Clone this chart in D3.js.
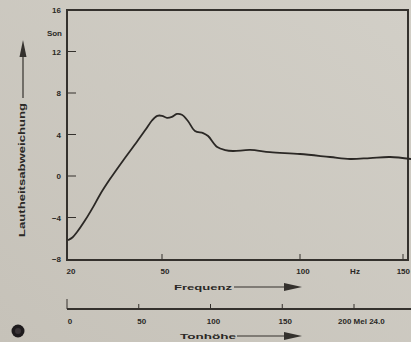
<!DOCTYPE html>
<html>
<head>
<meta charset="utf-8">
<script src="https://cdn.jsdelivr.net/npm/d3@7"></script>
<style>
  html, body { margin: 0; padding: 0; background: #ccc8bf; }
  svg { display: block; }
  text { font-family: "Liberation Sans", "DejaVu Sans", sans-serif; fill: #2a2825; font-weight: bold; }
</style>
</head>
<body>
<svg id="chart" width="411" height="342"></svg>
<script>
// Loudness deviation (Son) over frequency (Hz), with a pitch (Mel) scale below
const freqHz = [20, 21.5, 22.9, 25.4, 28.0, 30.2, 33.4, 37.6, 42.0, 44.6, 46.8, 48.5, 50, 51.8, 53.6, 55.4, 57.2, 59.4,
                61.96, 64.9, 66.7, 70.0, 72.9, 75.7, 81.9, 89.1, 100, 114.6, 124.3, 134, 143.7, 153.9];
const deviation = [-6.2, -5.9, -5.4, -4.3, -3.0, -1.8, -0.3, 1.5, 3.3, 4.4, 5.35, 5.8, 5.8, 5.6, 5.7, 5.98, 5.9, 5.3,
                   4.34, 4.14, 3.85, 2.79, 2.5, 2.41, 2.51, 2.3, 2.12, 1.83, 1.64, 1.73, 1.83, 1.64];

const yTicks = [16, 12, 8, 4, 0, -4, -8];
const freqTicks = [20, 50, 100, 150];
const freqAnchors = [20, 50, 100, 150];      // frequency values at which the pitch mapping is pinned
const melTicks = [0, 50, 100, 150, 200];
const melTickLabels = ["0", "50", "100", "150", "200 Mel 24.0"];

const svg = d3.select("#chart");
const W = 411, H = 342;

// soft paper tone
const defs = svg.append("defs");
const grad = defs.append("linearGradient").attr("id", "paper").attr("x1", 0).attr("y1", 1).attr("x2", 1).attr("y2", 0);
grad.append("stop").attr("offset", "0%").attr("stop-color", "#c6c2b9");
grad.append("stop").attr("offset", "100%").attr("stop-color", "#d2cfc7");
svg.append("rect").attr("width", W).attr("height", H).attr("fill", "url(#paper)");

const frame = { left: 67, right: 408, top: 10, bottom: 260 };
const ink = "#34312d";

const y = d3.scaleLinear().domain([-8, 16]).range([frame.bottom - 1, frame.top]);
// frequency axis follows the pitch scale, so it is not uniform in Hz
const xf = d3.scaleLinear().domain(freqAnchors).range([68, 162, 300, 403]);
const xm = d3.scaleLinear().domain([0, 200]).range([67, 354]);

// frame
svg.append("rect")
  .attr("x", frame.left).attr("y", frame.top)
  .attr("width", frame.right - frame.left).attr("height", frame.bottom - frame.top)
  .attr("fill", "none").attr("stroke", ink).attr("stroke-width", 2);

// y axis ticks and labels
const yAxis = svg.append("g").attr("transform", `translate(${frame.left},0)`);
yAxis.selectAll("line").data(yTicks.filter(d => d > -8 && d < 16)).join("line")
  .attr("x1", 0).attr("x2", 9).attr("y1", d => y(d)).attr("y2", d => y(d))
  .attr("stroke", ink).attr("stroke-width", 1);
yAxis.selectAll("text").data(yTicks).join("text")
  .attr("x", -6).attr("y", d => y(d) + 3).attr("text-anchor", "end")
  .attr("font-size", 8)
  .text(d => d < 0 ? "\u2212" + Math.abs(d) : d);
yAxis.append("text").attr("x", -5).attr("y", 36).attr("text-anchor", "end")
  .attr("font-size", 8).text("Son");

// y axis title with arrow
const yTitle = svg.append("g");
yTitle.append("text")
  .attr("transform", "translate(25,170) rotate(-90)")
  .attr("text-anchor", "middle").attr("font-size", 8.5)
  .attr("textLength", 134).attr("lengthAdjust", "spacingAndGlyphs")
  .text("Lautheitsabweichung");
yTitle.append("line").attr("x1", 23).attr("x2", 23).attr("y1", 98).attr("y2", 55)
  .attr("stroke", ink).attr("stroke-width", 1.2);
yTitle.append("path").attr("d", "M23,40 L19.5,57 L26.5,57 Z").attr("fill", ink);

// frequency axis
const fAxis = svg.append("g");
fAxis.selectAll("line").data(freqTicks.slice(1)).join("line")
  .attr("x1", d => xf(d)).attr("x2", d => xf(d))
  .attr("y1", frame.bottom).attr("y2", frame.bottom - 6)
  .attr("stroke", ink).attr("stroke-width", 1);
fAxis.selectAll("text").data(freqTicks).join("text")
  .attr("x", d => d === 150 ? W - 1 : xf(d) + 3).attr("y", frame.bottom + 14)
  .attr("text-anchor", d => d === 150 ? "end" : "middle")
  .attr("font-size", 8).text(d => d);
fAxis.append("text").attr("x", 355).attr("y", frame.bottom + 14).attr("text-anchor", "middle")
  .attr("font-size", 8).text("Hz");
fAxis.append("text").attr("x", 174).attr("y", 290).attr("font-size", 8)
  .attr("textLength", 58).attr("lengthAdjust", "spacingAndGlyphs").text("Frequenz");
fAxis.append("line").attr("x1", 234).attr("x2", 287).attr("y1", 287).attr("y2", 287)
  .attr("stroke", ink).attr("stroke-width", 1.2);
fAxis.append("path").attr("d", "M302,287 L284,283 L284,291 Z").attr("fill", ink);

// pitch (Mel) axis
const mAxis = svg.append("g");
mAxis.append("line").attr("x1", 67).attr("x2", W).attr("y1", 309).attr("y2", 309)
  .attr("stroke", ink).attr("stroke-width", 2);
mAxis.selectAll("line.tick").data(melTicks).join("line").attr("class", "tick")
  .attr("x1", d => xm(d)).attr("x2", d => xm(d))
  .attr("y1", 309).attr("y2", d => d === 0 ? 299 : 304)
  .attr("stroke", ink).attr("stroke-width", 1);
mAxis.selectAll("text").data(melTicks).join("text")
  .attr("x", d => d === 200 ? xm(d) - 16 : xm(d) + 3)
  .attr("y", 324).attr("text-anchor", d => d === 200 ? "start" : "middle")
  .attr("font-size", 8).text((d, i) => melTickLabels[i]);
mAxis.append("text").attr("x", 180).attr("y", 339).attr("font-size", 8)
  .attr("textLength", 56).attr("lengthAdjust", "spacingAndGlyphs").text("Tonhöhe");
mAxis.append("line").attr("x1", 237).attr("x2", 287).attr("y1", 336).attr("y2", 336)
  .attr("stroke", ink).attr("stroke-width", 1.2);
mAxis.append("path").attr("d", "M302,336 L284,332 L284,340 Z").attr("fill", ink);

// figure marker
svg.append("circle").attr("cx", 18).attr("cy", 331).attr("r", 6.5).attr("fill", "#1e1b1d");
svg.append("circle").attr("cx", 18).attr("cy", 331).attr("r", 3).attr("fill", "#3a3437");

// deviation curve
const pts = freqHz.map((f, i) => [f, deviation[i]]);
const line = d3.line().x(d => xf(d[0])).y(d => y(d[1])).curve(d3.curveCatmullRom.alpha(0.5));
svg.append("path").datum(pts)
  .attr("d", line)
  .attr("fill", "none").attr("stroke", "#2b2825").attr("stroke-width", 1.8)
  .attr("stroke-linejoin", "round");
</script>
</body>
</html>
